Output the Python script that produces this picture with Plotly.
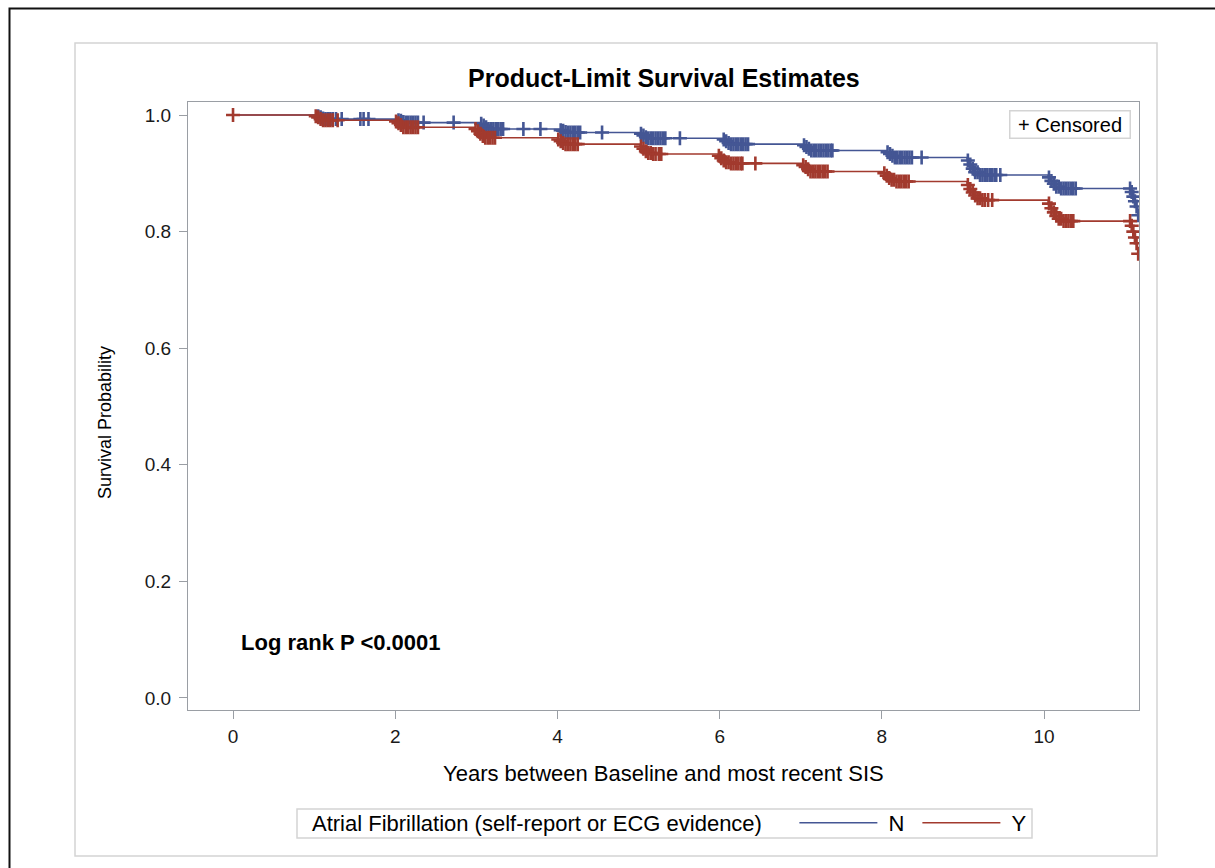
import numpy as np
import plotly.graph_objects as go

# ---------------- data ----------------
# Kaplan-Meier step data (time in years, survival after the event)
time_N = [0.0,
          1.04, 1.07, 1.10, 1.13,
          2.03, 2.06, 2.09, 2.12,
          3.05, 3.08, 3.11, 3.15,
          4.03, 4.06, 4.09, 4.13,
          5.02, 5.05, 5.08, 5.12,
          6.04, 6.07, 6.10, 6.14,
          7.03, 7.06, 7.09, 7.13,
          8.06, 8.09, 8.12, 8.16,
          9.05, 9.08, 9.11, 9.15, 9.19,
          10.05, 10.08, 10.11, 10.15, 10.19,
          11.07, 11.09, 11.11, 11.13, 11.15, 11.16]
surv_N = [1.000,
          0.998, 0.996, 0.994, 0.993,
          0.991, 0.990, 0.988, 0.987,
          0.985, 0.982, 0.979, 0.976,
          0.974, 0.973, 0.971, 0.970,
          0.968, 0.965, 0.962, 0.960,
          0.958, 0.955, 0.952, 0.950,
          0.948, 0.945, 0.942, 0.939,
          0.936, 0.933, 0.930, 0.927,
          0.922, 0.915, 0.908, 0.902, 0.897,
          0.893, 0.887, 0.882, 0.877, 0.874,
          0.868, 0.860, 0.852, 0.843, 0.835, 0.828]

time_Y = [0.0,
          1.01, 1.04, 1.07, 1.10,
          2.00, 2.03, 2.06, 2.10,
          2.98, 3.01, 3.04, 3.07, 3.10,
          4.00, 4.03, 4.06, 4.10,
          5.02, 5.05, 5.08, 5.12, 5.16,
          5.98, 6.01, 6.04, 6.08, 6.12,
          7.02, 7.05, 7.08, 7.12,
          8.02, 8.05, 8.08, 8.12, 8.16,
          9.05, 9.08, 9.11, 9.14, 9.18, 9.22,
          10.05, 10.08, 10.11, 10.14, 10.18, 10.22,
          11.07, 11.09, 11.11, 11.13, 11.15, 11.16]
surv_Y = [1.000,
          0.998, 0.996, 0.993, 0.991,
          0.989, 0.986, 0.983, 0.979,
          0.976, 0.972, 0.968, 0.964, 0.961,
          0.958, 0.955, 0.952, 0.950,
          0.946, 0.942, 0.938, 0.935, 0.933,
          0.930, 0.926, 0.922, 0.919, 0.917,
          0.914, 0.911, 0.907, 0.903,
          0.900, 0.896, 0.892, 0.889, 0.886,
          0.880, 0.873, 0.867, 0.862, 0.857, 0.854,
          0.848, 0.840, 0.833, 0.827, 0.822, 0.818,
          0.810, 0.800, 0.790, 0.780, 0.770, 0.762]

# censoring times
cens_N = [1.05, 1.08, 1.11, 1.14, 1.17, 1.20, 1.23,
          1.27, 1.34, 1.57, 1.61, 1.67,
          2.04, 2.07, 2.10, 2.13, 2.16, 2.19, 2.22, 2.25, 2.28,
          2.35, 2.72,
          3.06, 3.09, 3.12, 3.15, 3.18, 3.21, 3.24, 3.27, 3.30, 3.33,
          3.58, 3.79,
          4.04, 4.07, 4.10, 4.13, 4.16, 4.19, 4.22, 4.25, 4.28,
          4.55,
          5.03, 5.06, 5.09, 5.12, 5.15, 5.18, 5.21, 5.24, 5.27, 5.30, 5.33,
          5.51,
          6.05, 6.08, 6.11, 6.14, 6.17, 6.20, 6.23, 6.26, 6.29, 6.32, 6.35,
          7.04, 7.07, 7.10, 7.13, 7.16, 7.19, 7.22, 7.25, 7.28, 7.31, 7.34, 7.37, 7.39,
          8.07, 8.10, 8.13, 8.16, 8.19, 8.22, 8.25, 8.28, 8.31, 8.34, 8.37,
          8.49,
          9.06, 9.09, 9.12, 9.15, 9.18, 9.21, 9.24, 9.27, 9.30, 9.33, 9.36, 9.39, 9.41,
          9.46,
          10.06, 10.09, 10.12, 10.15, 10.18, 10.21, 10.24, 10.27, 10.30, 10.33, 10.36, 10.39,
          11.06, 11.08, 11.10, 11.12, 11.14, 11.16]
cens_Y = [0.0,
          1.02, 1.05, 1.08, 1.11, 1.14, 1.17, 1.20, 1.23,
          1.29,
          2.01, 2.04, 2.07, 2.10, 2.13, 2.16, 2.19, 2.22, 2.25, 2.28,
          2.99, 3.02, 3.05, 3.08, 3.11, 3.14, 3.17, 3.20, 3.23,
          4.01, 4.04, 4.07, 4.10, 4.13, 4.16, 4.19, 4.22, 4.25,
          5.03, 5.06, 5.09, 5.12, 5.15, 5.18, 5.21, 5.25, 5.28,
          5.99, 6.02, 6.05, 6.08, 6.11, 6.14, 6.17, 6.20, 6.23, 6.26, 6.28,
          6.44,
          7.03, 7.06, 7.09, 7.12, 7.15, 7.18, 7.21, 7.24, 7.27, 7.30, 7.33,
          8.03, 8.06, 8.09, 8.12, 8.15, 8.18, 8.21, 8.24, 8.27, 8.30, 8.33,
          9.06, 9.09, 9.12, 9.15, 9.18, 9.21, 9.24, 9.27, 9.31, 9.36,
          10.06, 10.09, 10.12, 10.15, 10.18, 10.21, 10.24, 10.27, 10.30, 10.33, 10.36,
          11.06, 11.08, 11.10, 11.12, 11.14, 11.16]

group_names = ["N", "Y"]
x_ticks = [0, 2, 4, 6, 8, 10]
y_ticks = [0.0, 0.2, 0.4, 0.6, 0.8, 1.0]

# ---------------- styling ----------------
BLUE = "#445694"
RED = "#A23A2E"
FONT = "Liberation Sans, Arial, sans-serif"
AXIS_COL = "#9a9ea4"
FRAME_COL = "#d4d4d4"

W, H = 1215, 868
L, R, T, B = 188, 1139, 102, 710   # plot area in pixels
pw, ph = R - L, B - T


def px(xp):
    return (xp - L) / pw


def py(yp):
    return (B - yp) / ph


def surv_at(times, surv, t):
    idx = np.searchsorted(np.asarray(times), np.asarray(t), side="right") - 1
    return np.asarray(surv)[idx]


fig = go.Figure()
series = [(time_N, surv_N, cens_N, BLUE, group_names[0]),
          (time_Y, surv_Y, cens_Y, RED, group_names[1])]
for tm, sv, cs, col, nm in series:
    fig.add_trace(go.Scatter(
        x=tm, y=sv, mode="lines", line=dict(color=col, width=1.6, shape="hv"),
        name="\u00a0" + nm, showlegend=True, hoverinfo="skip"))
    fig.add_trace(go.Scatter(
        x=cs, y=surv_at(tm, sv, cs), mode="markers",
        marker=dict(symbol="cross-thin", size=10, line=dict(color=col, width=2.6)),
        showlegend=False, hoverinfo="skip"))

axis_common = dict(showgrid=False, zeroline=False, showline=True, linecolor=AXIS_COL,
                   linewidth=1, mirror=True, ticks="outside", ticklen=8, tickcolor=AXIS_COL,
                   tickwidth=1, tickfont=dict(family=FONT, size=19, color="#1a1a1a"))
fig.update_xaxes(range=[-0.555, 11.17], tickvals=x_ticks, ticklabelstandoff=1, **axis_common)
fig.update_yaxes(range=[-0.0206, 1.0223], tickvals=y_ticks, tickformat=".1f",
                 ticklabelstandoff=4, **axis_common)

shapes = [
    dict(type="rect", xref="paper", yref="paper", x0=px(75), x1=px(1157), y0=py(856), y1=py(43),
         line=dict(color=FRAME_COL, width=1.5), layer="below"),
    dict(type="rect", xref="paper", yref="paper", x0=px(9.5), x1=px(1260), y0=py(920), y1=py(8.5),
         line=dict(color="#111", width=2), layer="below"),
    # legend frame
    dict(type="rect", xref="paper", yref="paper", x0=px(297), x1=px(1032), y0=py(838), y1=py(809),
         line=dict(color=FRAME_COL, width=1.5), layer="below"),
]

annotations = [
    dict(text="<b>Product-Limit Survival Estimates</b>", xref="paper", yref="paper",
         x=0.5, y=py(78), xanchor="center", yanchor="middle", showarrow=False,
         font=dict(family=FONT, size=25, color="#000")),
    dict(text="Survival Probability", xref="paper", yref="paper", x=px(105), y=py(423),
         textangle=-90, xanchor="center", yanchor="middle", showarrow=False,
         font=dict(family=FONT, size=18, color="#000")),
    dict(text="Years between Baseline and most recent SIS", xref="paper", yref="paper",
         x=0.5, y=py(773), xanchor="center", yanchor="middle", showarrow=False,
         font=dict(family=FONT, size=22, color="#000")),
    dict(text="<b>Log rank P &lt;0.0001</b>", xref="paper", yref="paper",
         x=px(239), y=py(642), xanchor="left", yanchor="middle", showarrow=False,
         font=dict(family=FONT, size=22, color="#000")),
    dict(text="\u00a0+ Censored\u00a0", xref="paper", yref="paper", x=px(1131), y=py(110),
         xanchor="right", yanchor="top", showarrow=False, bordercolor=FRAME_COL,
         borderwidth=1.5, borderpad=2, bgcolor="white",
         font=dict(family=FONT, size=20, color="#000")),
]

fig.update_layout(
    width=W, height=H, autosize=False,
    margin=dict(l=L, r=W - R, t=T, b=H - B, pad=0),
    paper_bgcolor="white", plot_bgcolor="white",
    shapes=shapes, annotations=annotations,
    showlegend=True,
    legend=dict(orientation="h", x=px(310), y=py(802), xanchor="left", yanchor="top",
                borderwidth=0, bgcolor="rgba(0,0,0,0)",
                title=dict(text="Atrial Fibrillation (self-report or ECG evidence)   \u00a0",
                           side="left", font=dict(family=FONT, size=22, color="#000")),
                font=dict(family=FONT, size=22, color="#000"),
                itemwidth=78, entrywidth=30, tracegroupgap=0),
)

fig.write_html("out.html", config={"displayModeBar": False},
               post_script="document.body.style.margin='0';")
